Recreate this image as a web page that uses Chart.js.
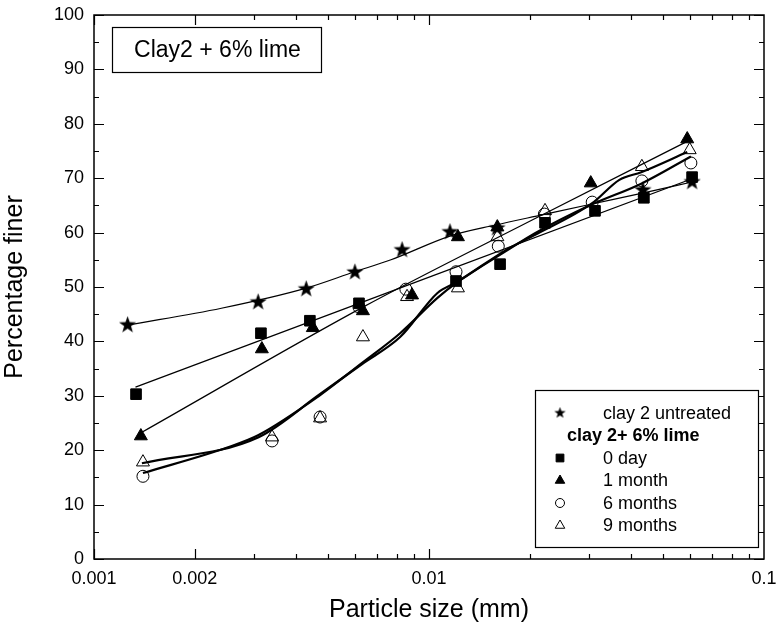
<!DOCTYPE html>
<html><head><meta charset="utf-8">
<script src="https://cdn.jsdelivr.net/npm/chart.js@4.4.1/dist/chart.umd.min.js"></script>
<style>html,body{margin:0;padding:0;background:#fff;}#wrap{width:780px;height:636px;}</style>
</head><body><div id="wrap"><canvas id="c" width="780" height="636"></canvas></div>
<script>
// ---- data ----
const xTickLabels = [0.001, 0.002, 0.01, 0.1];
const yTickValues = [0, 10, 20, 30, 40, 50, 60, 70, 80, 90, 100];

const untreatedSize = [0.00126, 0.00309, 0.00430, 0.00601, 0.00831, 0.01155, 0.01596, 0.0435, 0.061];
const untreatedPct  = [43.0, 47.2, 49.6, 52.7, 56.8, 60.1, 60.8, 67.8, 69.3];

const day0Size = [0.001335, 0.00315, 0.00441, 0.00618, 0.01204, 0.0163, 0.0222, 0.0313, 0.0438, 0.061];
const day0Pct  = [30.3, 41.5, 43.8, 47.0, 51.1, 54.2, 61.8, 64.0, 66.4, 70.2];

const month1Size = [0.00138, 0.00317, 0.0045, 0.00635, 0.0089, 0.0122, 0.016, 0.0304, 0.059];
const month1Pct  = [22.6, 38.6, 42.5, 45.6, 48.5, 59.2, 61.0, 69.1, 77.2];

const month6Size = [0.0014, 0.0034, 0.00473, 0.00618, 0.00853, 0.01204, 0.0161, 0.0221, 0.0307, 0.0432, 0.0605];
const month6Pct  = [15.2, 21.7, 26.1, 46.3, 49.6, 52.8, 57.5, 63.4, 65.6, 69.5, 72.8];

const month9Size = [0.0014, 0.0034, 0.00473, 0.00635, 0.0086, 0.0122, 0.016, 0.0222, 0.0432, 0.06];
const month9Pct  = [17.8, 22.4, 25.9, 40.8, 48.2, 49.8, 59.2, 64.0, 72.1, 75.2];

// fitted curves
const untreatedFitSize = [0.00126, 0.0024, 0.0043, 0.006, 0.0077, 0.0116, 0.0158, 0.0219, 0.0309, 0.0437, 0.061];
const untreatedFitPct  = [43.0, 46.1, 49.8, 52.8, 55.0, 59.4, 61.4, 63.3, 65.3, 67.3, 69.3];

const day0FitSize = [0.00133, 0.061];
const day0FitPct  = [31.6, 69.9];

const month1FitSize = [0.00139, 0.00635, 0.0206, 0.06];
const month1FitPct  = [23.3, 46.3, 62.5, 77.0];

const month9FitSize = [0.00139, 0.0031, 0.0047, 0.0063, 0.0082, 0.0106, 0.0121, 0.0174, 0.0206, 0.0307, 0.037, 0.043, 0.059];
const month9FitPct  = [17.6, 22.4, 30.2, 35.8, 40.8, 48.9, 50.9, 57.2, 59.5, 65.4, 69.7, 71.1, 74.8];

const month6FitSize = [0.0014, 0.0025, 0.0031, 0.0047, 0.0063, 0.0082, 0.0106, 0.0121, 0.0174, 0.0206, 0.0307, 0.043, 0.0605];
const month6FitPct  = [15.8, 20.5, 22.8, 30.0, 36.0, 41.5, 48.0, 50.8, 57.0, 59.8, 65.2, 69.0, 74.0];

const legendLabels = ['clay 2 untreated', 'clay 2+ 6% lime', '0 day', '1 month', '6 months', '9 months'];
const boxTitle = 'Clay2 + 6% lime';

// ---- drawing ----
const FONT = '"Liberation Sans", Arial, Helvetica, sans-serif';
const pts = (xs, ys) => xs.map((x, i) => ({x, y: ys[i]}));

function makeStar(size, outer, inner) {
  const c = document.createElement('canvas'); c.width = c.height = size;
  const g = c.getContext('2d'); g.fillStyle = '#000'; g.beginPath();
  for (let i = 0; i < 10; i++) {
    const r = i % 2 ? inner : outer, a = -Math.PI / 2 + i * Math.PI / 5;
    const px = size / 2 + r * Math.cos(a), py = size / 2 + r * Math.sin(a);
    i ? g.lineTo(px, py) : g.moveTo(px, py);
  }
  g.closePath(); g.fill(); return c;
}
const starBig = makeStar(19, 9, 3.6);
const starSmall = makeStar(13, 6, 2.4);

function markerDS(label, xs, ys, style, radius, filled) {
  return {label, data: pts(xs, ys), showLine: false, pointStyle: style, pointRadius: radius,
    pointHoverRadius: radius, pointBackgroundColor: filled ? '#000' : 'rgba(0,0,0,0)',
    pointBorderColor: '#000', pointBorderWidth: 1, borderColor: '#000', backgroundColor: '#000'};
}
function fitDS(xs, ys, w) {
  return {label: '', data: pts(xs, ys), showLine: true, pointRadius: 0, borderColor: '#000',
    borderWidth: w, tension: 0.4, cubicInterpolationMode: 'monotone', fill: false};
}

const frameTicks = {
  id: 'frameTicks',
  beforeDatasetsDraw(chart) {
    const {ctx, chartArea: a, scales: {x, y}} = chart;
    ctx.save(); ctx.strokeStyle = '#000';
    ctx.lineWidth = 1.5;
    ctx.strokeRect(a.left, a.top, a.right - a.left, a.bottom - a.top);
    ctx.lineWidth = 1.2;
    ctx.beginPath();
    for (let d = 0.001; d < 0.1; d *= 10) {
      for (let k = 1; k <= 9; k++) {
        const v = k * d, px = Math.round(x.getPixelForValue(v)) + 0.5;
        const major = xTickLabels.some(t => Math.abs(t - v) / t < 1e-6);
        const L = major ? 10 : 5;
        ctx.moveTo(px, a.bottom); ctx.lineTo(px, a.bottom - L);
        ctx.moveTo(px, a.top); ctx.lineTo(px, a.top + L);
      }
    }
    for (let v = 0; v <= 100; v += 5) {
      const py = Math.round(y.getPixelForValue(v)) + 0.5;
      const L = v % 10 === 0 ? 10 : 5;
      ctx.moveTo(a.left, py); ctx.lineTo(a.left + L, py);
      ctx.moveTo(a.right, py); ctx.lineTo(a.right - L, py);
    }
    ctx.stroke(); ctx.restore();
  },
  afterDatasetsDraw(chart) {
    const {ctx, chartArea: a} = chart;
    ctx.save();
    // title box
    const tx = a.left + 18, ty = a.top + 12, tw = 209, th = 45;
    ctx.fillStyle = '#fff'; ctx.fillRect(tx, ty, tw, th);
    ctx.strokeStyle = '#000'; ctx.lineWidth = 1.2; ctx.strokeRect(tx + 0.5, ty + 0.5, tw, th);
    ctx.fillStyle = '#000'; ctx.font = '23px ' + FONT; ctx.textAlign = 'center'; ctx.textBaseline = 'middle';
    ctx.fillText(boxTitle, tx + tw / 2 + 1, ty + th / 2 + 1);
    // legend box
    const lw = 223, lh = 157, lx = a.right - lw - 6, ly = a.bottom - lh - 12;
    ctx.fillStyle = '#fff'; ctx.fillRect(lx, ly, lw, lh);
    ctx.strokeRect(lx + 0.5, ly + 0.5, lw, lh);
    ctx.textAlign = 'left';
    const rowY = i => ly + 23 + i * 22.5;
    const mx = lx + 25, txX = lx + 68;
    ctx.fillStyle = '#000';
    ctx.font = '18px ' + FONT;
    ctx.drawImage(starSmall, mx - starSmall.width / 2, rowY(0) - starSmall.height / 2);
    ctx.fillText(legendLabels[0], txX, rowY(0) + 1);
    ctx.font = 'bold 18px ' + FONT;
    ctx.fillText(legendLabels[1], lx + 32, rowY(1) + 1);
    ctx.font = '18px ' + FONT;
    const styles = ['rect', 'triangle', 'circle', 'triangle'];
    const fills = [true, true, false, false];
    const radii = [5.5, 5.5, 4.5, 5.5];
    for (let i = 0; i < 4; i++) {
      const yy = rowY(i + 2);
      ctx.fillStyle = fills[i] ? '#000' : 'rgba(0,0,0,0)';
      ctx.strokeStyle = '#000'; ctx.lineWidth = 1;
      Chart.helpers.drawPoint(ctx, {pointStyle: styles[i], radius: radii[i], borderWidth: 1}, mx, yy);
      ctx.fillStyle = '#000';
      ctx.fillText(legendLabels[i + 2], txX, yy + 1);
    }
    ctx.restore();
  }
};

new Chart(document.getElementById('c'), {
  type: 'scatter',
  data: {datasets: [
    markerDS(legendLabels[0], untreatedSize, untreatedPct, starBig, 9, true),
    markerDS(legendLabels[2], day0Size, day0Pct, 'rect', 7.5, true),
    markerDS(legendLabels[3], month1Size, month1Pct, 'triangle', 7.5, true),
    markerDS(legendLabels[4], month6Size, month6Pct, 'circle', 6, false),
    markerDS(legendLabels[5], month9Size, month9Pct, 'triangle', 7.5, false),
    fitDS(untreatedFitSize, untreatedFitPct, 1.2),
    fitDS(day0FitSize, day0FitPct, 1.2),
    fitDS(month1FitSize, month1FitPct, 1.2),
    fitDS(month6FitSize, month6FitPct, 2.2),
    fitDS(month9FitSize, month9FitPct, 2.2)
  ]},
  options: {
    responsive: false, devicePixelRatio: 1, animation: false,
    layout: {padding: {top: 15, right: 16, left: 0, bottom: 0}},
    plugins: {legend: {display: false}, tooltip: {enabled: false}},
    scales: {
      x: {
        type: 'logarithmic', min: 0.001, max: 0.1, position: 'bottom',
        afterFit(s) { s.height = 77; s.paddingLeft = 0; s.paddingRight = 0; },
        afterBuildTicks(s) { s.ticks = xTickLabels.map(v => ({value: v})); },
        grid: {display: false, drawTicks: false}, border: {display: false},
        ticks: {color: '#000', font: {family: FONT, size: 18}, padding: 9, autoSkip: false, maxRotation: 0,
          callback: v => String(v)},
        title: {display: true, text: 'Particle size (mm)', color: '#000', font: {family: FONT, size: 25},
          padding: {top: 0, bottom: 11}}
      },
      y: {
        min: 0, max: 100,
        afterFit(s) { s.width = 94; s.paddingTop = 0; s.paddingBottom = 0; },
        afterBuildTicks(s) { s.ticks = yTickValues.map(v => ({value: v})); },
        grid: {display: false, drawTicks: false}, border: {display: false},
        ticks: {color: '#000', font: {family: FONT, size: 18}, padding: 10},
        title: {display: true, text: 'Percentage finer', color: '#000', font: {family: FONT, size: 25},
          padding: {top: 0, bottom: 6}}
      }
    }
  },
  plugins: [frameTicks]
});
</script>
</body></html>
